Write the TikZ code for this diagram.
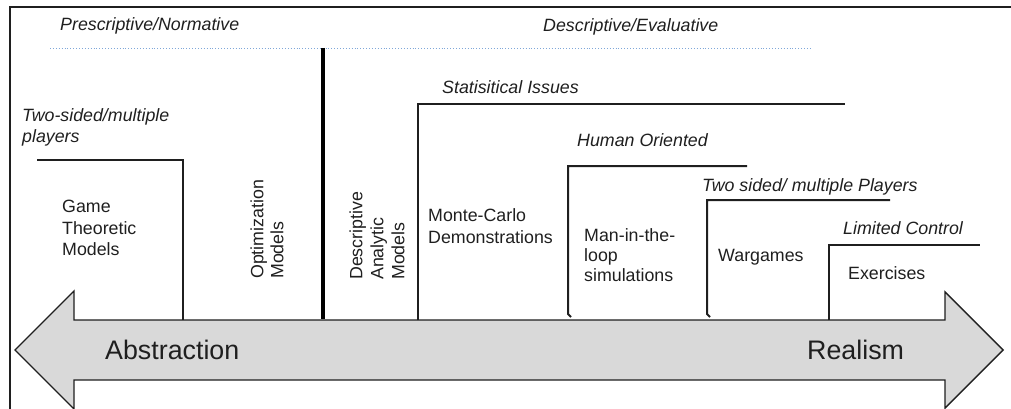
\documentclass[tikz,border=0pt]{standalone}
\usepackage{fontspec}
\setmainfont{Liberation Sans}
\definecolor{arrowfill}{HTML}{D9D9D9}
\definecolor{dotblue}{HTML}{7FA7D9}
\definecolor{ink}{HTML}{1F1F1F}
\begin{document}
\begin{tikzpicture}[x=1pt,y=-1pt,
  lbl/.style={font=\fontsize{17.8}{21.5}\selectfont, inner sep=0pt, align=left, text=ink},
  ital/.style={font=\fontsize{17.8}{21.5}\selectfont\itshape, inner sep=0pt, align=left, text=ink},
  big/.style={font=\fontsize{26.8}{30}\selectfont, inner sep=0pt, text=ink},
  bracket/.style={line width=2pt, draw=ink},
  framestyle/.style={line width=1.6pt, draw=ink},
  bigarrow/.style={line width=1.4pt, draw=ink, fill=arrowfill, line join=miter}]
\useasboundingbox (0,0) rectangle (1011,409);

% frame
\draw[framestyle] (10,409) -- (10,7) -- (1011,7);

% dotted separator
\draw[dotblue, dotted, line width=0.9pt] (50,48) -- (810,48);

% double arrow
\draw[bigarrow] (15,350) -- (74,291) -- (74,320) -- (945,320) -- (945,292) -- (1003,350)
  -- (945,408) -- (945,380) -- (74,380) -- (74,409) -- cycle;

% headings
\node[ital, anchor=west] (presc) at (60,26) {Prescriptive/Normative};
\node[ital, anchor=west] (descr) at (543,27) {Descriptive/Evaluative};

% game theoretic
\node[ital, anchor=west] (twoA) at (22,127.5) {Two-sided/multiple\\players};
\draw[bracket] (37,160) -- (183,160) -- (183,320);
\node[lbl, anchor=west] (game) at (62,228) {Game\\Theoretic\\Models};

% optimization
\node[lbl, rotate=90, anchor=west, font=\fontsize{17.8}{20}\selectfont] (opt) at (267,279) {Optimization\\Models};

% thick divider
\draw[line width=4pt, draw=black] (323,48) -- (323,319);

% descriptive analytic
\node[lbl, rotate=90, anchor=west, font=\fontsize{17.8}{21}\selectfont] (dam) at (377,280) {Descriptive\\Analytic\\Models};

% statistical issues
\node[ital, anchor=west] (stat) at (442,87) {Statisitical Issues};
\draw[bracket] (418,320) -- (418,104) -- (845,104);
\node[lbl, anchor=west] (mc) at (428,226) {Monte-Carlo\\Demonstrations};

% human oriented
\node[ital, anchor=west] (human) at (577,140) {Human Oriented};
\draw[bracket] (571,317) -- (568,314) -- (568,166) -- (747,166);
\node[lbl, anchor=west, font=\fontsize{17.8}{20}\selectfont] (mil) at (584,255) {Man-in-the-\\loop\\simulations};

% two sided / wargames
\node[ital, anchor=west] (twoB) at (702,187) {Two sided/ multiple Players};
\draw[bracket] (710,317) -- (707,314) -- (707,200) -- (890,200);
\node[lbl, anchor=west] (war) at (718,257) {Wargames};

% limited control / exercises
\node[ital, anchor=west] (lim) at (843,228) {Limited Control};
\draw[bracket] (829,320) -- (829,245) -- (980,245);
\node[lbl, anchor=west] (exe) at (848,273) {Exercises};

% arrow labels
\node[big, anchor=west] (abs) at (105,350) {Abstraction};
\node[big, anchor=west] (real) at (807,350) {Realism};
\end{tikzpicture}
\end{document}
